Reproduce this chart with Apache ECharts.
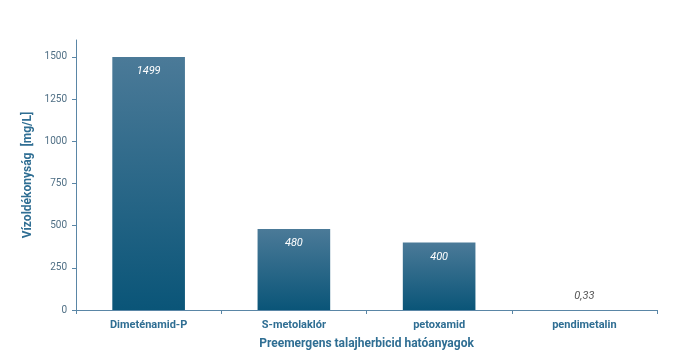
<!DOCTYPE html>
<html><head><meta charset="utf-8">
<script src="https://cdn.jsdelivr.net/npm/echarts@6/dist/echarts.min.js"></script>
<style>html,body{margin:0;padding:0;background:#fff}#c{width:700px;height:359px}</style>
</head><body><div id="c"></div>
<script>
const categories = ["Dimeténamid-P", "S-metolaklór", "petoxamid", "pendimetalin"];
const values = [1499, 480, 400, 0.33];
const valueLabels = ["1499", "480", "400", "0,33"];
const yTicks = [0, 250, 500, 750, 1000, 1250, 1500];

const chart = echarts.init(document.getElementById('c'));
const axisColor = '#5a86a6';
const font = 'Roboto';
chart.setOption({
  animation: false,
  grid: { left: 76, right: 43, top: 40, bottom: 49 },
  xAxis: {
    type: 'category',
    data: categories,
    name: 'Preemergens talajherbicid hatóanyagok',
    nameLocation: 'middle',
    nameGap: 28,
    nameTextStyle: { color: '#2f6e93', fontWeight: 'bold', fontSize: 12, fontFamily: font },
    axisLine: { lineStyle: { color: axisColor } },
    axisTick: { show: true, alignWithLabel: false, length: 4, lineStyle: { color: axisColor } },
    axisLabel: { color: '#2f6e93', fontWeight: 'bold', fontSize: 11, fontFamily: font, margin: 10 }
  },
  yAxis: {
    type: 'value',
    min: 0, max: 1600, interval: 250,
    name: 'Vízoldékonyság  [mg/L]',
    nameLocation: 'middle',
    nameGap: 37,
    nameTextStyle: { color: '#2f6e93', fontWeight: 'bold', fontSize: 12, fontFamily: font },
    axisLine: { show: true, lineStyle: { color: axisColor } },
    axisTick: { show: true, length: 4, lineStyle: { color: axisColor } },
    splitLine: { show: false },
    axisLabel: {
      color: '#4f6f85', fontSize: 10, fontFamily: font, margin: 9,
      showMaxLabel: false,
      formatter: v => yTicks.includes(v) ? String(v) : ''
    }
  },
  series: [{
    type: 'bar',
    barWidth: '50%',
    data: values.map((v, i) => ({
      value: v,
      label: {
        show: true,
        position: v > 100 ? 'insideTop' : 'top',
        distance: v > 100 ? 9 : 8,
        formatter: valueLabels[i],
        color: v > 100 ? '#ffffff' : '#555555',
        fontStyle: 'italic',
        fontSize: 11,
        fontFamily: font
      }
    })),
    itemStyle: {
      color: new echarts.graphic.LinearGradient(0, 0, 0, 1, [
        { offset: 0, color: '#4b7a98' },
        { offset: 1, color: '#0a5578' }
      ])
    }
  }]
});
</script></body></html>
